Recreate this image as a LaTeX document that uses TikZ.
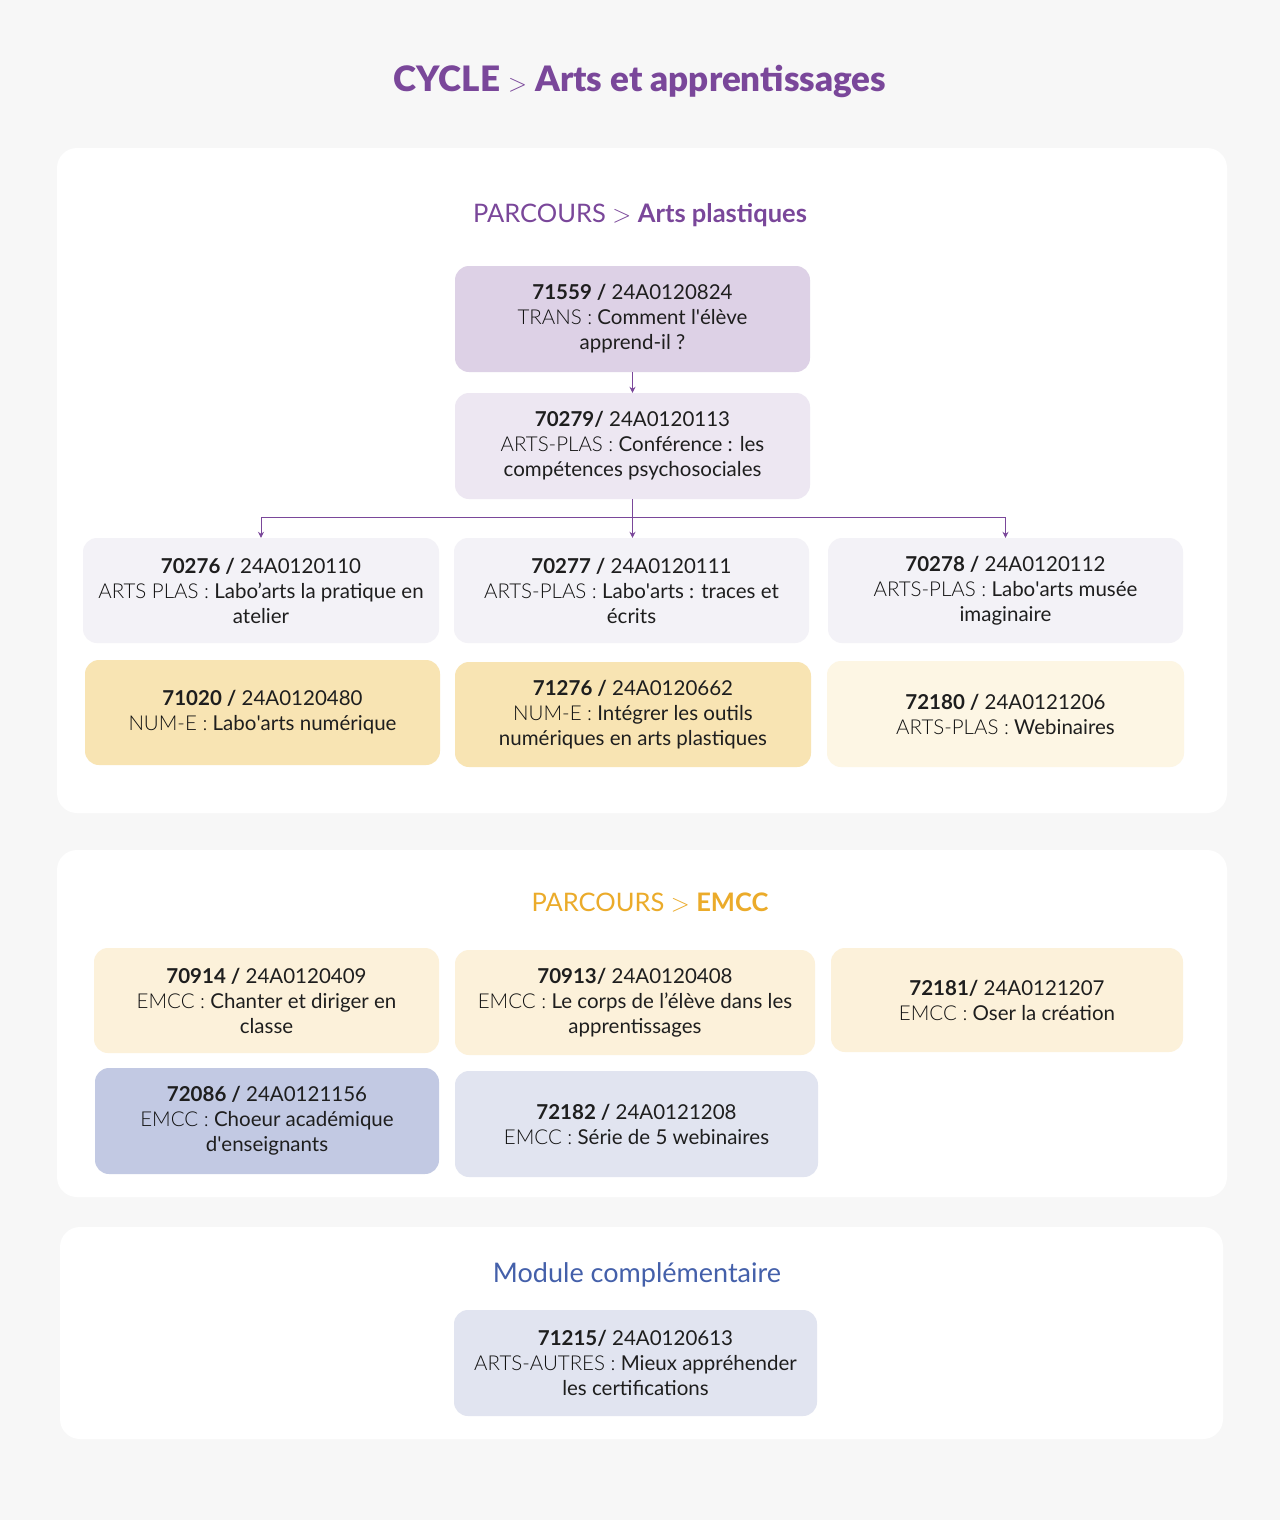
\documentclass[tikz,border=0pt]{standalone}
\usepackage{fontspec}
\setmainfont{Lato}
\newfontfamily\lightfont{Lato Light}
\newfontfamily\blackfont{Lato Black}
\usetikzlibrary{arrows.meta,calc}
\definecolor{bgc}{HTML}{F7F7F7}
\definecolor{purp}{HTML}{7A479A}
\definecolor{orng}{HTML}{EBAB2A}
\definecolor{blu}{HTML}{4460AA}
\definecolor{txt}{HTML}{1E1E1E}
\definecolor{pre}{HTML}{111111}
\definecolor{cA}{HTML}{DDD1E6}
\definecolor{cB}{HTML}{EDE7F2}
\definecolor{cC}{HTML}{F3F2F7}
\definecolor{cY}{HTML}{F8E4B3}
\definecolor{cYl}{HTML}{FDF6E4}
\definecolor{cE}{HTML}{FCF1DA}
\definecolor{cBl}{HTML}{C2C9E3}
\definecolor{cBll}{HTML}{E1E4F0}
\newcommand{\pfx}[1]{{\lightfont\color{pre}#1}}
\newcommand{\sq}{\textquotesingle}
\begin{document}
\begin{tikzpicture}[x=1pt,y=-1pt,
  box/.style={rounded corners=14pt, draw=none, align=center, inner sep=0pt,
    text=txt, font=\fontsize{20.5}{25}\selectfont},
  panel/.style={fill=white, rounded corners=20pt},
  arr/.style={draw=purp, line width=0.9pt, -{Stealth[length=6pt,width=6pt]}},
  ttl/.style={font=\fontsize{35}{40}\selectfont\blackfont, text=purp},
  hdr/.style={font=\fontsize{25.5}{30}\selectfont}]
\useasboundingbox (0,0) rectangle (1280,1520);
\fill[bgc] (0,0) rectangle (1280,1520);
\node[ttl] (title) at (640,81) {CYCLE {\lightfont$>$} Arts et apprentissages};

% panel 1
\fill[panel] (57,148) rectangle (1227,813);
\node[hdr, text=purp] (h1) at (640,215) {PARCOURS {\lightfont$>$} \textbf{Arts plastiques}};
\node[box, fill=cA, minimum width=355, minimum height=106] (a) at (632.5,319)
  {\textbf{71559 /} 24A0120824\\\pfx{TRANS :} Comment l\sq élève\\apprend-il ?};
\node[box, fill=cB, minimum width=355, minimum height=106] (b) at (632.5,446)
  {\textbf{70279/} 24A0120113\\\pfx{ARTS-PLAS :} Conférence : les\\compétences psychosociales};
\node[box, fill=cC, minimum width=356, minimum height=105] (c1) at (261,590.5)
  {\textbf{70276 /} 24A0120110\\\pfx{ARTS PLAS :} Labo’arts la pratique en\\atelier};
\node[box, fill=cC, minimum width=355, minimum height=105] (c2) at (631.5,590.5)
  {\textbf{70277 /} 24A0120111\\\pfx{ARTS-PLAS :} Labo\sq arts : traces et\\écrits};
\node[box, fill=cC, minimum width=355, minimum height=105] (c3) at (1005.5,590.5)
  {\textbf{70278 /} 24A0120112\\\pfx{ARTS-PLAS :} Labo\sq arts musée\\imaginaire};
\node[box, fill=cY, minimum width=355, minimum height=105] (d1) at (262.5,712.5)
  {\textbf{71020 /} 24A0120480\\\pfx{NUM-E :} Labo\sq arts numérique};
\node[box, fill=cY, minimum width=356, minimum height=105] (d2) at (633,714.5)
  {\textbf{71276 /} 24A0120662\\\pfx{NUM-E :} Intégrer les outils\\numériques en arts plastiques};
\node[box, fill=cYl, minimum width=357, minimum height=106] (d3) at (1005.5,714)
  {\textbf{72180 /} 24A0121206\\\pfx{ARTS-PLAS :} Webinaires};
\coordinate (j) at (632.5,517);
\draw[arr] (a.south) -- (b.north);
\draw[arr] (b.south) -- (c2.north -| j);
\draw[arr] (b.south) -- (j) -| (c1.north);
\draw[arr] (b.south) -- (j) -| (c3.north);

% panel 2
\fill[panel] (57,850) rectangle (1227,1197);
\node[hdr, text=orng] (h2) at (650,902) {PARCOURS {\lightfont$>$} \textbf{EMCC}};
\node[box, fill=cE, minimum width=345, minimum height=105] (e1) at (266.5,1000.5)
  {\textbf{70914 /} 24A0120409\\\pfx{EMCC :} Chanter et diriger en\\classe};
\node[box, fill=cE, minimum width=360, minimum height=105] (e2) at (635,1002.5)
  {\textbf{70913/} 24A0120408\\\pfx{EMCC :} Le corps de l’élève dans les\\apprentissages};
\node[box, fill=cE, minimum width=352, minimum height=104] (e3) at (1007,1000)
  {\textbf{72181/} 24A0121207\\\pfx{EMCC :} Oser la création};
\node[box, fill=cBl, minimum width=344, minimum height=106] (f1) at (267,1121)
  {\textbf{72086 /} 24A0121156\\\pfx{EMCC :} Choeur académique\\d\sq enseignants};
\node[box, fill=cBll, minimum width=363, minimum height=106] (f2) at (636.5,1124)
  {\textbf{72182 /} 24A0121208\\\pfx{EMCC :} Série de 5 webinaires};

% panel 3
\fill[panel] (60,1227) rectangle (1223,1439);
\node[hdr, text=blu, font=\fontsize{27}{32}\selectfont] (h3) at (637,1275) {Module complémentaire};
\node[box, fill=cBll, minimum width=363, minimum height=106] (g) at (635.5,1363)
  {\textbf{71215/} 24A0120613\\\pfx{ARTS-AUTRES :} Mieux appréhender\\les certifications};
\end{tikzpicture}
\end{document}
